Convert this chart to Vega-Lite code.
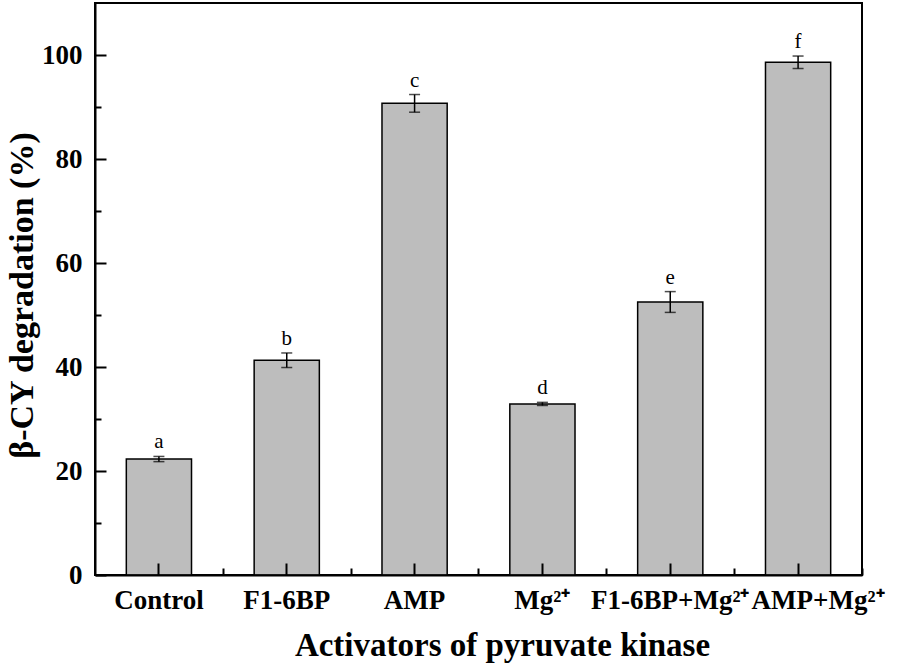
{
  "$schema": "https://vega.github.io/schema/vega-lite/v6.json",
  "width": 767,
  "height": 572,
  "autosize": "none",
  "padding": {"left": 95, "top": 3, "right": 36, "bottom": 91},
  "background": "white",
  "config": {"view": {"stroke": "black", "strokeWidth": 2}, "font": "Liberation Serif"},
  "data": {"values": [
    {"activator": "Control", "value": 22.3, "err": 0.5, "letter": "a"},
    {"activator": "F1-6BP", "value": 41.3, "err": 1.4, "letter": "b"},
    {"activator": "AMP", "value": 90.7, "err": 1.7, "letter": "c"},
    {"activator": "Mg²⁺", "value": 32.9, "err": 0.3, "letter": "d"},
    {"activator": "F1-6BP+Mg²⁺", "value": 52.5, "err": 2.0, "letter": "e"},
    {"activator": "AMP+Mg²⁺", "value": 98.6, "err": 1.2, "letter": "f"}
  ]},
  "layer": [
    {
      "mark": {"type": "bar", "fill": "#bdbdbd", "stroke": "black", "strokeWidth": 1.5},
      "encoding": {
        "x": {"field": "activator", "type": "nominal", "sort": null,
          "scale": {"paddingInner": 0.49, "paddingOuter": 0.245},
          "axis": {"orient": "bottom", "zindex": 1, "labelAngle": 0, "ticks": false, "tickSize": 0,
            "domainColor": "black", "domainWidth": 2, "labelFont": "Liberation Serif", "labelFontSize": 27,
            "labelFontWeight": "bold", "labelColor": "black", "labelPadding": 12, "labelOverlap": false, "labelLimit": 400,
            "labelOffset": {"condition": {"test": "datum.value === 'AMP+Mg²⁺'", "value": 20}, "value": 0},
            "title": "Activators of pyruvate kinase", "titleFont": "Liberation Serif", "titleFontSize": 33,
            "titleFontWeight": "bold", "titleColor": "black", "titleX": 407, "titleY": 80, "titleAlign": "center",
            "titleBaseline": "alphabetic"}},
        "y": {"field": "value", "type": "quantitative", "scale": {"domain": [0, 110], "nice": false},
          "axis": {"zindex": 1, "values": [0, 20, 40, 60, 80, 100], "ticks": false, "tickSize": 0,
            "domainColor": "black", "domainWidth": 2, "grid": false,
            "labelFont": "Liberation Serif", "labelFontSize": 27, "labelFontWeight": "bold", "labelColor": "black",
            "labelPadding": 13,
            "title": "β-CY  degradation (%)", "titleFont": "Liberation Serif", "titleFontSize": 34,
            "titleFontWeight": "bold", "titleColor": "black", "titleX": -63, "titleY": 292, "titleAngle": -90,
            "titleAlign": "center", "titleBaseline": "alphabetic"}}
      }
    },
    {
      "mark": {"type": "errorbar", "ticks": {"size": 11, "color": "black", "thickness": 1.5}, "rule": {"color": "black", "strokeWidth": 1.5}},
      "encoding": {
        "x": {"field": "activator", "type": "nominal", "sort": null,
          "axis": {"orient": "bottom", "zindex": 2, "tickSize": -12, "tickWidth": 2, "tickColor": "black",
            "labels": false, "domain": false, "title": null}},
        "y": {"field": "value", "type": "quantitative",
          "axis": {"orient": "left", "zindex": 2, "values": [0, 20, 40, 60, 80, 100], "tickSize": -11, "tickWidth": 2,
            "tickColor": "black", "labels": false, "domain": false, "grid": false, "title": null}},
        "yError": {"field": "err"}
      }
    },
    {
      "transform": [{"calculate": "datum.value + datum.err", "as": "top"}],
      "mark": {"type": "text", "font": "Liberation Serif", "fontSize": 21, "color": "black", "baseline": "alphabetic", "dy": -8},
      "encoding": {
        "x": {"field": "activator", "type": "nominal", "sort": null,
          "axis": {"orient": "bottom", "zindex": 2, "tickOffset": 63.9, "tickSize": -7, "tickWidth": 2, "tickColor": "black",
            "labels": false, "domain": false, "title": null}},
        "y": {"field": "top", "type": "quantitative",
          "axis": {"orient": "left", "zindex": 2, "values": [10, 30, 50, 70, 90], "tickSize": -6, "tickWidth": 2,
            "tickColor": "black", "labels": false, "domain": false, "grid": false, "title": null}},
        "text": {"field": "letter"}
      }
    }
  ],
  "resolve": {"axis": {"x": "independent", "y": "independent"}}
}
